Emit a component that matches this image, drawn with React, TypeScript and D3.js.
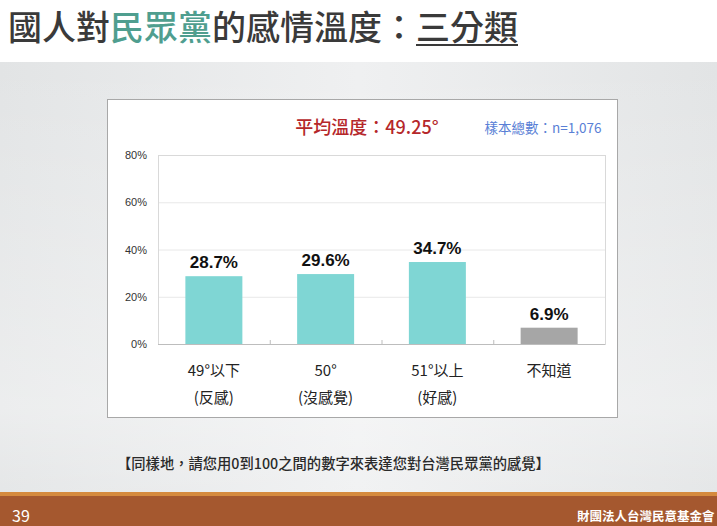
import React from "react";
import * as d3 from "d3";

const categoriesLine1 = ["49°以下", "50°", "51°以上", "不知道"];
const categoriesLine2 = ["(反感)", "(沒感覺)", "(好感)", ""];
const values = [28.7, 29.6, 34.7, 6.9];
const barColors = ["#7fd6d4", "#7fd6d4", "#7fd6d4", "#a6a6a6"];
const yTicks = [0, 20, 40, 60, 80];

const W = 717;
const H = 526;
const CJK = "'Noto Sans CJK TC', 'Noto Sans', sans-serif";
const LAT = "'Liberation Sans', Arial, sans-serif";

export default function App() {
  const plot = { left: 158, right: 605, top: 155, bottom: 344 };
  const x = d3
    .scaleBand<number>()
    .domain(d3.range(values.length))
    .range([plot.left, plot.right])
    .paddingInner(0.49)
    .paddingOuter(0.245);
  const xb = d3
    .scaleBand<number>()
    .domain(d3.range(values.length))
    .range([plot.left, plot.right]);
  const y = d3.scaleLinear().domain([0, 80]).range([plot.bottom, plot.top]);

  return (
    <svg
      width={W}
      height={H}
      style={{ position: "absolute", left: 0, top: 0 }}
      xmlns="http://www.w3.org/2000/svg"
    >
      <defs>
        <linearGradient id="bg" x1="0" x2="1" y1="0" y2="0">
          <stop offset="0" stopColor="#e2e4e5" />
          <stop offset="0.5" stopColor="#eff0f1" />
          <stop offset="1" stopColor="#e2e4e5" />
        </linearGradient>
        <linearGradient id="bgv" x1="0" x2="0" y1="0" y2="1">
          <stop offset="0" stopColor="#ffffff" stopOpacity="0" />
          <stop offset="0.8" stopColor="#ffffff" stopOpacity="0.35" />
          <stop offset="1" stopColor="#ffffff" stopOpacity="0.1" />
        </linearGradient>
      </defs>
      <rect x={0} y={0} width={W} height={H} fill="#ffffff" />
      <rect x={0} y={62} width={W} height={431} fill="url(#bg)" />
      <rect x={0} y={62} width={W} height={431} fill="url(#bgv)" />

      {/* Title */}
      <text x={8} y={40} fontFamily={CJK} fontSize={34} fontWeight={500} fill="#3a3a3a">
        <tspan>國人對</tspan>
        <tspan fill="#4f9e8f">民眾黨</tspan>
        <tspan>的感情溫度：</tspan>
        <tspan>三分類</tspan>
      </text>
      <line x1={416} x2={518} y1={45} y2={45} stroke="#3a3a3a" strokeWidth={1.8} />

      {/* Chart box */}
      <rect x={107.5} y={99.5} width={510} height={318} fill="#ffffff" stroke="#a8a8a8" strokeWidth={1} />

      <text x={367} y={134} textAnchor="middle" fontFamily={CJK} fontSize={18} fontWeight={500} fill="#b5272a">
        平均溫度：49.25°
      </text>
      <text x={543} y={133} textAnchor="middle" fontFamily={CJK} fontSize={13.5} fill="#5a7fd6">
        樣本總數：n=1,076
      </text>

      {/* Gridlines */}
      {yTicks.map((t) => (
        <g key={t}>
          <line
            x1={plot.left}
            x2={plot.right}
            y1={y(t) + 0.5}
            y2={y(t) + 0.5}
            stroke={t === 0 ? "#bdbdbd" : "#e8e8e8"}
            strokeWidth={1}
          />
          <text x={147} y={y(t) + 4} textAnchor="end" fontFamily={LAT} fontSize={11} fill="#333">
            {t}%
          </text>
        </g>
      ))}
      <rect
        x={plot.left + 0.5}
        y={plot.top + 0.5}
        width={plot.right - plot.left}
        height={plot.bottom - plot.top}
        fill="none"
        stroke="#d9d9d9"
      />
      <line x1={plot.left} x2={plot.right} y1={plot.bottom + 0.5} y2={plot.bottom + 0.5} stroke="#bdbdbd" />
      {d3.range(1, values.length).map((i) => (
        <line
          key={i}
          x1={(xb(i) as number) + 0.5}
          x2={(xb(i) as number) + 0.5}
          y1={plot.bottom}
          y2={plot.bottom - 4}
          stroke="#bdbdbd"
        />
      ))}

      {/* Bars */}
      {values.map((v, i) => (
        <g key={i}>
          <rect
            x={x(i) as number}
            y={y(v)}
            width={x.bandwidth()}
            height={y(0) - y(v)}
            fill={barColors[i]}
          />
          <text
            x={(x(i) as number) + x.bandwidth() / 2}
            y={y(v) - 8}
            textAnchor="middle"
            fontFamily={LAT}
            fontWeight="bold"
            fontSize={17}
            fill="#111"
          >
            {v.toFixed(1)}%
          </text>
          <text
            x={(x(i) as number) + x.bandwidth() / 2}
            y={376}
            textAnchor="middle"
            fontFamily={CJK}
            fontSize={15}
            fill="#222"
          >
            {categoriesLine1[i]}
          </text>
          <text
            x={(x(i) as number) + x.bandwidth() / 2}
            y={403}
            textAnchor="middle"
            fontFamily={CJK}
            fontSize={15}
            fill="#222"
          >
            {categoriesLine2[i]}
          </text>
        </g>
      ))}

      {/* Footnote */}
      <text x={117} y={469} fontFamily={CJK} fontSize={14.3} fontWeight={500} fill="#2a2a2a">
        【同樣地，請您用0到100之間的數字來表達您對台灣民眾黨的感覺】
      </text>

      {/* Footer */}
      <rect x={0} y={492} width={W} height={34} fill="#a5582f" />
      <rect x={0} y={492} width={W} height={4} fill="#d58a3e" />
      <text x={12} y={522} fontFamily={CJK} fontSize={16} fill="#ffffff">
        39
      </text>
      <text x={577} y={521} fontFamily={CJK} fontSize={12.5} fontWeight={700} fill="#ffffff">
        財團法人台灣民意基金會
      </text>
    </svg>
  );
}
